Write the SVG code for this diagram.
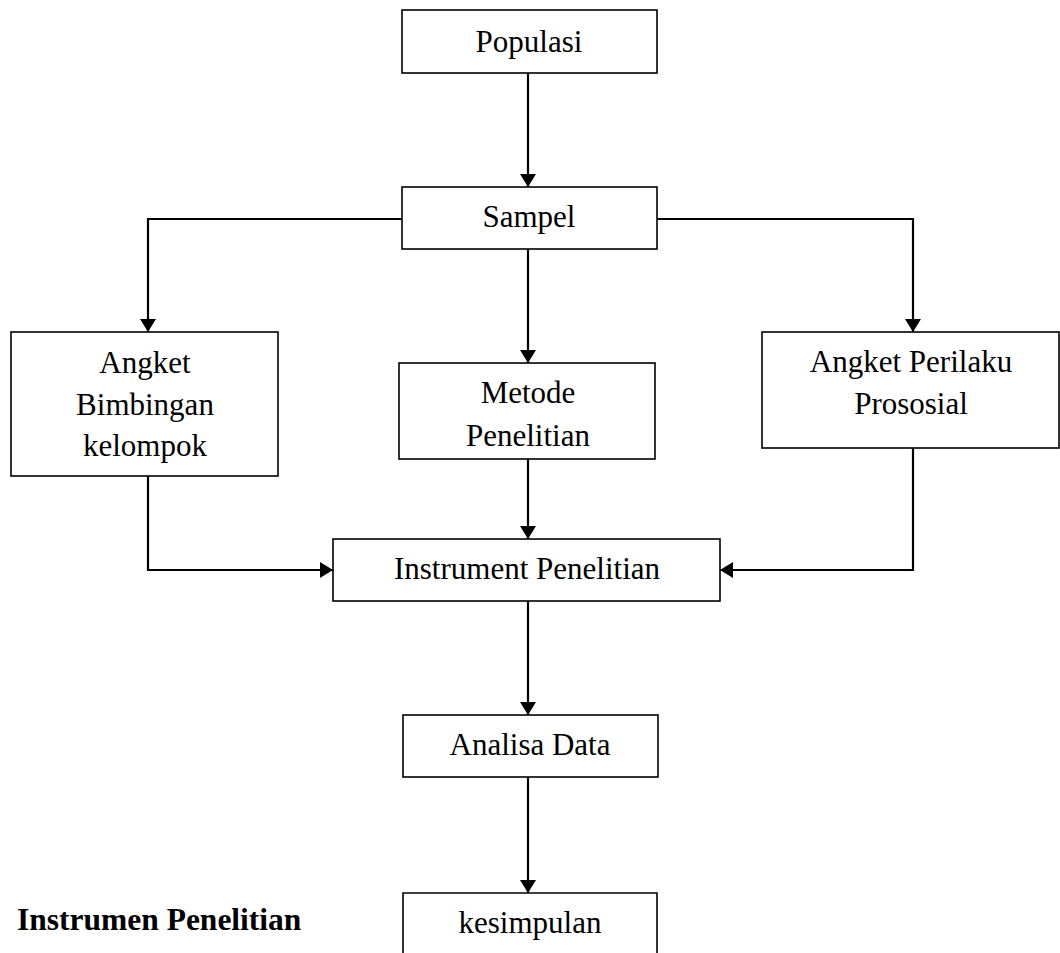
<svg xmlns="http://www.w3.org/2000/svg" width="1060" height="953" viewBox="0 0 1060 953">
<style>
.box{fill:#fff;stroke:#000;stroke-width:1.6}
.t{font-family:"Liberation Serif","Times New Roman",serif;font-size:31px;fill:#000;text-anchor:middle}
.b{font-family:"Liberation Serif","Times New Roman",serif;font-size:31.5px;font-weight:bold;fill:#000}
.c{fill:none;stroke:#000;stroke-width:2.2}
</style>
<defs>
<marker id="ah" viewBox="0 0 13 16" refX="13" refY="8" markerWidth="13" markerHeight="16" markerUnits="userSpaceOnUse" orient="auto">
<path d="M0,0 L13,8 L0,16 Z" fill="#000"/>
</marker>
</defs>
<g id="connectors">
<line class="c" x1="528" y1="73" x2="528" y2="187" marker-end="url(#ah)"/>
<polyline class="c" points="402,219 148,219 148,332" marker-end="url(#ah)"/>
<polyline class="c" points="657,219 913,219 913,332" marker-end="url(#ah)"/>
<line class="c" x1="528" y1="249" x2="528" y2="363" marker-end="url(#ah)"/>
<line class="c" x1="528" y1="459" x2="528" y2="539" marker-end="url(#ah)"/>
<polyline class="c" points="148,476 148,570 333,570" marker-end="url(#ah)"/>
<polyline class="c" points="913,448 913,570 720,570" marker-end="url(#ah)"/>
<line class="c" x1="528" y1="601" x2="528" y2="715" marker-end="url(#ah)"/>
<line class="c" x1="528" y1="777" x2="528" y2="893" marker-end="url(#ah)"/>
</g>
<g id="populasi"><rect class="box" x="402" y="10" width="255" height="63"/><text class="t" x="529" y="52">Populasi</text></g>
<g id="sampel"><rect class="box" x="402" y="187" width="255" height="62"/><text class="t" x="529" y="227">Sampel</text></g>
<g id="angket-bimbingan"><rect class="box" x="11" y="332" width="267" height="144"/><text class="t" x="145" y="373">Angket</text><text class="t" x="145" y="415">Bimbingan</text><text class="t" x="145" y="456">kelompok</text></g>
<g id="metode"><rect class="box" x="399" y="363" width="256" height="96"/><text class="t" x="528" y="403">Metode</text><text class="t" x="528" y="446">Penelitian</text></g>
<g id="angket-prososial"><rect class="box" x="762" y="332" width="297" height="116"/><text class="t" x="911" y="372">Angket Perilaku</text><text class="t" x="911" y="414">Prososial</text></g>
<g id="instrument"><rect class="box" x="333" y="539" width="387" height="62"/><text class="t" x="527" y="579">Instrument Penelitian</text></g>
<g id="analisa"><rect class="box" x="403" y="715" width="255" height="62"/><text class="t" x="530" y="755">Analisa Data</text></g>
<g id="kesimpulan"><path class="box" d="M403,960 L403,893 L657,893 L657,960"/><text class="t" x="530" y="933">kesimpulan</text></g>
<g id="caption"><text class="b" x="17" y="930">Instrumen Penelitian</text></g>
</svg>
